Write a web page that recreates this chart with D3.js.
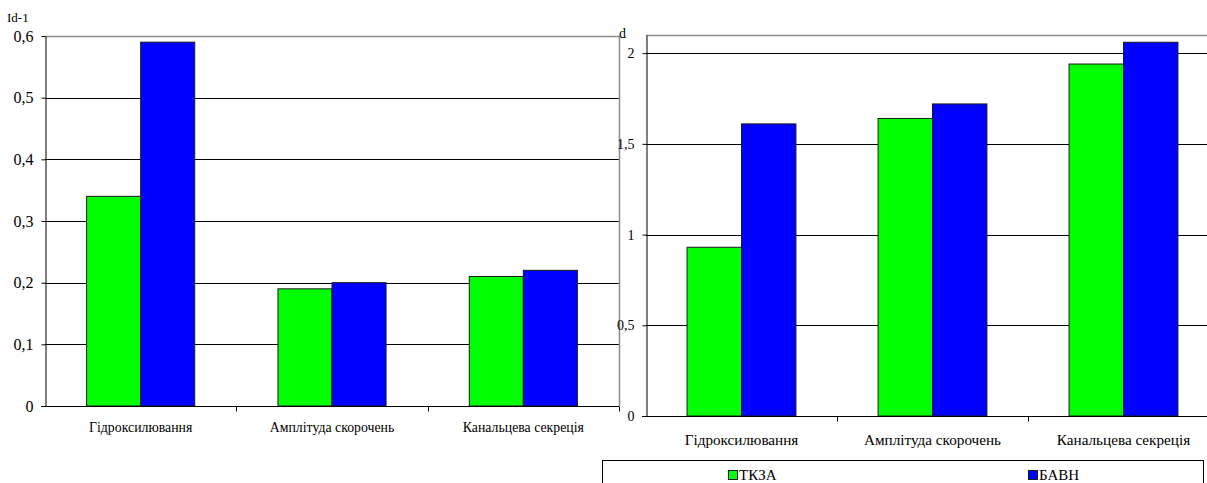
<!DOCTYPE html>
<html>
<head>
<meta charset="utf-8">
<script src="https://cdn.jsdelivr.net/npm/d3@7"></script>
<style>
  html, body { margin: 0; padding: 0; background: #fff; }
  svg { display: block; }
</style>
</head>
<body>
<svg id="chart" width="1207" height="483" font-family="Liberation Serif"></svg>
<script>
// Categories and series shared by both panels
const categories = ["Гідроксилювання", "Амплітуда скорочень", "Канальцева секреція"];
const seriesNames = ["ТКЗА", "БАВН"];
const seriesColors = ["#00ff00", "#0000ff"];

// Left panel (Id-1)
const leftTKZA = [0.34, 0.19, 0.21];
const leftBAVN = [0.59, 0.20, 0.22];
const leftTicks = [0, 0.1, 0.2, 0.3, 0.4, 0.5, 0.6];
const leftMax = 0.6;

// Right panel (d)
const rightTKZA = [0.93, 1.64, 1.94];
const rightBAVN = [1.61, 1.72, 2.06];
const rightTicks = [0, 0.5, 1, 1.5, 2];
const rightMax = 2.1;

const serif = "Liberation Serif";
const svg = d3.select("#chart");
const fmt = d => String(d).replace(".", ",");

function drawPanel(cfg) {
  const g = svg.append("g");
  const x = d3.scaleBand().domain(categories).range([cfg.left, cfg.right])
    .paddingInner(cfg.gap).paddingOuter(cfg.gap / 2);
  const xs = d3.scaleBand().domain(seriesNames).range([0, x.bandwidth()]);
  const y = d3.scaleLinear().domain([0, cfg.max]).range([cfg.bottom, cfg.top]);
  const px = v => Math.round(v) + 0.5;

  // horizontal gridlines
  g.append("g").selectAll("line")
    .data(cfg.ticks.filter(t => t > 0))
    .join("line")
    .attr("x1", cfg.left).attr("x2", cfg.right)
    .attr("y1", d => px(y(d))).attr("y2", d => px(y(d)))
    .attr("stroke", "#000").attr("stroke-width", 1);

  // plot area border (top and right)
  g.append("path")
    .attr("d", `M${cfg.left},${px(cfg.top)}H${px(cfg.right)}V${cfg.bottom}`)
    .attr("fill", "none").attr("stroke", "#8c8c8c").attr("stroke-width", 1.5);

  // bars
  const series = [cfg.s1, cfg.s2];
  const groups = g.append("g").selectAll("g")
    .data(categories)
    .join("g")
    .attr("transform", d => `translate(${x(d)},0)`);
  groups.selectAll("rect")
    .data((d, i) => seriesNames.map((s, k) => ({ s, k, v: series[k][i] })))
    .join("rect")
    .attr("x", d => xs(d.s))
    .attr("y", d => y(d.v))
    .attr("width", xs.bandwidth())
    .attr("height", d => y(0) - y(d.v))
    .attr("fill", d => seriesColors[d.k])
    .attr("stroke", "#1a1a1a").attr("stroke-width", 1);

  // y axis
  const ya = g.append("g")
    .attr("transform", `translate(${px(cfg.left)},0)`)
    .call(d3.axisLeft(y).tickValues(cfg.ticks).tickFormat(fmt)
      .tickSize(4).tickSizeOuter(0).tickPadding(8));
  ya.attr("font-family", serif).attr("font-size", cfg.yFont);
  ya.select(".domain").attr("stroke", "#000");
  ya.selectAll(".tick line").attr("stroke", "#000");
  ya.selectAll("text").attr("fill", "#000");

  // x axis with category labels
  const xa = g.append("g")
    .attr("transform", `translate(0,${px(cfg.bottom)})`)
    .call(d3.axisBottom(x).tickSize(0).tickSizeOuter(0));
  xa.attr("font-family", serif).attr("font-size", cfg.catFont);
  xa.select(".domain").attr("stroke", "#000")
    .attr("d", `M${cfg.left - 4},0H${cfg.right}`);
  xa.selectAll("text").attr("fill", "#000").attr("y", cfg.catOffset).attr("dy", 0);

  // tick marks at category boundaries
  xa.append("g").selectAll("line")
    .data(d3.range(1, categories.length + 1))
    .join("line")
    .attr("x1", i => px(cfg.left + i * x.step()))
    .attr("x2", i => px(cfg.left + i * x.step()))
    .attr("y1", 0).attr("y2", 5)
    .attr("stroke", "#000");

  // axis title
  g.append("text")
    .attr("x", cfg.titleX).attr("y", cfg.titleY)
    .attr("font-family", serif).attr("font-size", cfg.titleFont)
    .attr("fill", "#000")
    .text(cfg.title);
}

drawPanel({
  left: 45, right: 619, top: 36, bottom: 406, max: leftMax,
  ticks: leftTicks, s1: leftTKZA, s2: leftBAVN, gap: 0.435,
  yFont: 16, catFont: 13.8, catOffset: 25,
  title: "Id-1", titleX: 7, titleY: 21.5, titleFont: 13
});

drawPanel({
  left: 646, right: 1219, top: 35, bottom: 416, max: rightMax,
  ticks: rightTicks, s1: rightTKZA, s2: rightBAVN, gap: 0.43,
  yFont: 14, catFont: 15.2, catOffset: 28,
  title: "d", titleX: 619, titleY: 37.5, titleFont: 14
});

// legend
const legend = svg.append("g");
legend.append("rect")
  .attr("x", 602.5).attr("y", 460.5).attr("width", 601).attr("height", 40)
  .attr("fill", "#fff").attr("stroke", "#000").attr("stroke-width", 1);
const legendX = [728, 1028];
const items = legend.selectAll("g.item")
  .data(seriesNames)
  .join("g")
  .attr("class", "item")
  .attr("transform", (d, i) => `translate(${legendX[i]},470)`);
items.append("rect")
  .attr("x", 0.5).attr("y", 0.5).attr("width", 9).attr("height", 9)
  .attr("fill", (d, i) => seriesColors[i])
  .attr("stroke", "#1a1a1a").attr("stroke-width", 1);
items.append("text")
  .attr("x", 11).attr("y", 10)
  .attr("font-family", serif).attr("font-size", 15)
  .attr("fill", "#000")
  .text(d => d);
</script>
</body>
</html>
